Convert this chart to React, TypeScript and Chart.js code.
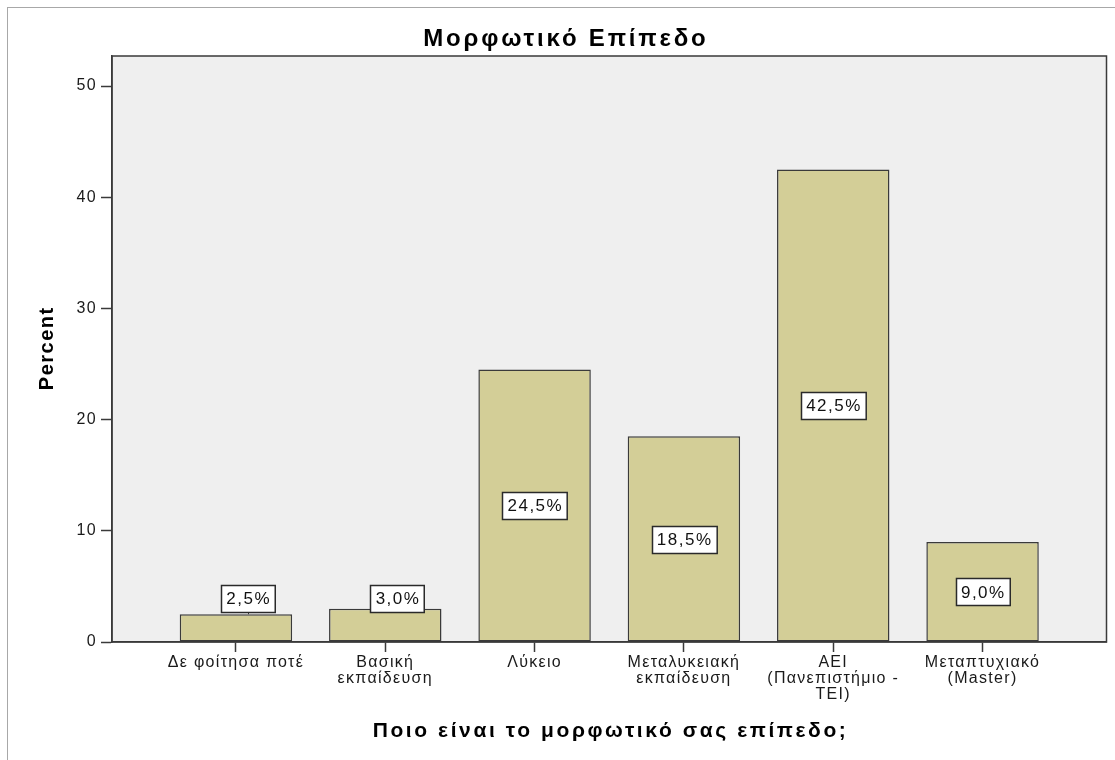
import React, { useEffect, useRef } from 'react';
import { Chart, registerables } from 'chart.js';

Chart.register(...registerables);

// ---- data ----
const chartTitle = 'Μορφωτικό Επίπεδο';
const xAxisTitle = 'Ποιο είναι το μορφωτικό σας επίπεδο;';
const yAxisTitle = 'Percent';
const categories = [
  'Δε φοίτησα ποτέ',
  'Βασική\nεκπαίδευση',
  'Λύκειο',
  'Μεταλυκειακή\nεκπαίδευση',
  'ΑΕΙ\n(Πανεπιστήμιο -\nΤΕΙ)',
  'Μεταπτυχιακό\n(Master)',
];
const percentValues = [2.5, 3.0, 24.5, 18.5, 42.5, 9.0];
const yTickValues = [0, 10, 20, 30, 40, 50];
const yMax = 52.7;
const labelMinValue = 3.9; // labels of short bars sit at this level

const FONT = '"Liberation Sans", Arial, Helvetica, sans-serif';
const BAR_FILL = '#D3CE97';
const DARK = '#3a3a3a';
const PLOT_BG = '#EFEFEF';

function fmt(v: number) {
  return v.toFixed(1).replace('.', ',') + '%';
}

function drawSpacedText(
  ctx: CanvasRenderingContext2D,
  text: string,
  x: number,
  y: number,
  font: string,
  spacing: number,
  rotate = 0
) {
  ctx.save();
  ctx.translate(x, y);
  if (rotate) ctx.rotate(rotate);
  ctx.font = font;
  (ctx as any).letterSpacing = spacing + 'px';
  ctx.fillStyle = '#000';
  ctx.textAlign = 'center';
  ctx.textBaseline = 'alphabetic';
  ctx.fillText(text, spacing / 2, 0);
  ctx.restore();
}

const decorPlugin = {
  id: 'spssDecor',
  beforeDraw(chart: any) {
    const { ctx, chartArea: a } = chart;
    ctx.save();
    ctx.fillStyle = '#fff';
    ctx.fillRect(0, 0, chart.width, chart.height);
    ctx.strokeStyle = '#a8a8a8';
    ctx.lineWidth = 1;
    ctx.strokeRect(7.5, 7.5, chart.width + 40, chart.height + 40);
    ctx.fillStyle = PLOT_BG;
    ctx.fillRect(a.left, a.top, a.right - a.left, a.bottom - a.top);
    ctx.restore();
    (ctx as any).letterSpacing = '1.3px';
  },
  afterDatasetsDraw(chart: any) {
    const { ctx, chartArea: a } = chart;
    const yScale = chart.scales.y;
    ctx.save();
    ctx.strokeStyle = DARK;
    ctx.lineWidth = 1.5;
    ctx.strokeRect(a.left, a.top, a.right - a.left, a.bottom - a.top);
    ctx.restore();

    const meta = chart.getDatasetMeta(0);
    meta.data.forEach((bar: any, i: number) => {
      const v = percentValues[i];
      const text = fmt(v);
      const above = v / 2 < labelMinValue;
      const cy = yScale.getPixelForValue(Math.max(v / 2, labelMinValue));
      const cx = bar.x + (above ? 12 : 0);
      ctx.save();
      ctx.font = `17px ${FONT}`;
      (ctx as any).letterSpacing = '1.5px';
      const tw = ctx.measureText(text).width;
      const w = tw + 9;
      const h = 27;
      const x0 = Math.round(cx - w / 2) + 0.5;
      const y0 = Math.round(cy - h / 2) + 0.5;
      const barTop = bar.y;
      if (y0 + h < barTop) {
        ctx.strokeStyle = DARK;
        ctx.lineWidth = 1;
        ctx.beginPath();
        ctx.moveTo(Math.round(cx) + 0.5, y0 + h);
        ctx.lineTo(Math.round(cx) + 0.5, barTop);
        ctx.stroke();
      }
      ctx.fillStyle = '#fff';
      ctx.fillRect(x0, y0, w, h);
      ctx.strokeStyle = '#2a2a2a';
      ctx.lineWidth = 1.5;
      ctx.strokeRect(x0, y0, w, h);
      ctx.fillStyle = '#111';
      ctx.textAlign = 'center';
      ctx.textBaseline = 'middle';
      ctx.fillText(text, cx + 0.75, cy + 1);
      ctx.restore();
    });
  },
  afterDraw(chart: any) {
    const { ctx, chartArea: a } = chart;
    drawSpacedText(ctx, chartTitle, 564.5, 46, `bold 24px ${FONT}`, 2.8);
    drawSpacedText(ctx, xAxisTitle, (a.left + a.right) / 2, 737, `bold 21px ${FONT}`, 2.6);
    drawSpacedText(ctx, yAxisTitle, 53, (a.top + a.bottom) / 2, `bold 20px ${FONT}`, 1.5, -Math.PI / 2);
  },
};

export default function App() {
  const canvasRef = useRef<HTMLCanvasElement | null>(null);

  useEffect(() => {
    const canvas = canvasRef.current;
    if (!canvas) return;
    const chart = new Chart(canvas, {
      type: 'bar',
      data: {
        datasets: [
          {
            label: 'Percent',
            data: percentValues.map((v, i) => ({ x: i, y: v })),
            backgroundColor: BAR_FILL,
            borderColor: DARK,
            borderWidth: 1.5,
            borderSkipped: false,
            barPercentage: 0.753,
            categoryPercentage: 1,
          },
        ],
      },
      options: {
        responsive: false,
        animation: false,
        devicePixelRatio: 1,
        layout: { padding: { top: 56, right: 8.5, left: 0, bottom: 0 } },
        plugins: {
          legend: { display: false },
          tooltip: { enabled: false },
          title: { display: false },
        },
        scales: {
          x: {
            type: 'linear',
            min: -0.83,
            max: 5.83,
            offset: false,
            afterBuildTicks: (scale: any) => {
              scale.ticks = categories.map((_, i) => ({ value: i }));
            },
            afterFit: (scale: any) => {
              scale.height = 118;
            },
            grid: {
              offset: false,
              drawOnChartArea: false,
              drawTicks: true,
              tickLength: 10,
              tickColor: DARK,
              tickWidth: 1.5,
            },
            border: { display: true, color: DARK, width: 1.5 },
            ticks: {
              autoSkip: false,
              maxRotation: 0,
              minRotation: 0,
              padding: 3,
              color: '#1a1a1a',
              font: { family: FONT, size: 16, lineHeight: 1.0 },
              callback: (_v: any, index: number) => categories[index].split('\n'),
            },
          },
          y: {
            min: 0,
            max: yMax,
            afterBuildTicks: (scale: any) => {
              scale.ticks = yTickValues.map((v) => ({ value: v }));
            },
            afterFit: (scale: any) => {
              scale.width = 112;
            },
            grid: {
              drawOnChartArea: false,
              drawTicks: true,
              tickLength: 11,
              tickColor: DARK,
              tickWidth: 1.5,
            },
            border: { display: true, color: DARK, width: 1.5 },
            ticks: {
              padding: 4,
              color: '#1a1a1a',
              font: { family: FONT, size: 16 },
              callback: (v: any) => String(v),
            },
          },
        },
      },
      plugins: [decorPlugin],
    } as any);
    return () => chart.destroy();
  }, []);

  return (
    <div
      style={{
        position: 'fixed',
        left: 0,
        top: 0,
        width: 1115,
        height: 760,
        overflow: 'hidden',
        background: '#fff',
      }}
    >
      <canvas ref={canvasRef} width={1115} height={760} style={{ display: 'block', width: 1115, height: 760 }} />
    </div>
  );
}
